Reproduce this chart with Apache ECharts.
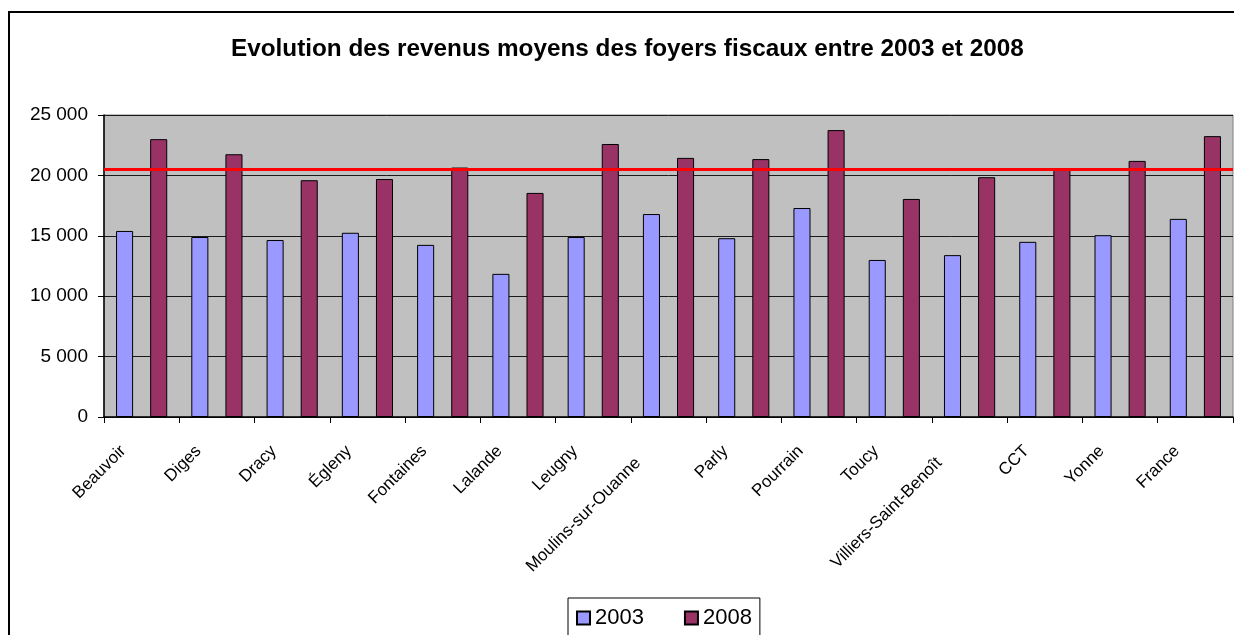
<!DOCTYPE html>
<html lang="fr" style="height: 100%">
<head>
    <meta http-equiv="Content-Type" content="text/html; charset=utf-8"/>
    <title>Evolution des revenus moyens</title>
    <script type="text/javascript" src="https://cdn.jsdelivr.net/npm/echarts@6.0.0/dist/echarts.min.js"></script>
</head>
<body style="height: 100%; margin: 0; background: #fff">
<div id="container" style="width: 1234px; height: 635px"></div>
<script type="text/javascript">
    // donnees
    var communes = ['Beauvoir', 'Diges', 'Dracy', 'Égleny', 'Fontaines', 'Lalande', 'Leugny',
        'Moulins-sur-Ouanne', 'Parly', 'Pourrain', 'Toucy', 'Villiers-Saint-Benoît', 'CCT', 'Yonne', 'France'];
    var revenus2003 = [15400, 14900, 14650, 15250, 14250, 11850, 14900, 16800, 14800, 17300, 13000, 13400, 14500, 15050, 16400];
    var revenus2008 = [23000, 21750, 19600, 19700, 20650, 18550, 22600, 21450, 21350, 23750, 18050, 19850, 20450, 21200, 23250];
    var ligneRouge = 20530;
    var yMin = 0, yMax = 25000, yPas = 5000;

    var police = 'Liberation Sans, Arial, sans-serif';

    function milliers(v) {
        return String(v).replace(/\B(?=(\d{3})+(?!\d))/g, ' ');
    }

    // les libelles longs sont un peu plus bas, comme dans Excel
    var categories = communes.map(function (nom) {
        var p = nom.length > 15 ? 43 : 26;
        return {value: nom, textStyle: {padding: [0, p, 0, 0]}};
    });

    var myChart = echarts.init(document.getElementById('container'));
    var option = {
        animation: false,
        backgroundColor: '#fff',
        textStyle: {fontFamily: police, color: '#000'},
        title: {
            text: 'Evolution des revenus moyens des foyers fiscaux entre 2003 et 2008',
            left: 226,
            top: 32,
            textStyle: {fontFamily: police, fontSize: 24.3, fontWeight: 'bold', color: '#000'}
        },
        legend: {
            data: ['2003', '2008'],
            left: 568,
            top: 598,
            orient: 'horizontal',
            padding: [9, 8, 12, 8],
            itemGap: 40,
            itemWidth: 13,
            itemHeight: 13,
            icon: 'rect',
            borderColor: '#000',
            borderWidth: 1,
            textStyle: {fontFamily: police, fontSize: 22, color: '#000'}
        },
        grid: {
            left: 104,
            right: 1,
            top: 115,
            bottom: 218,
            show: true,
            backgroundColor: '#C0C0C0',
            borderColor: '#808080',
            borderWidth: 1
        },
        xAxis: {
            type: 'category',
            data: categories,
            axisLine: {lineStyle: {color: '#000', width: 1.5}},
            axisTick: {show: true, length: 6, lineStyle: {color: '#000'}},
            axisLabel: {
                interval: 0,
                rotate: 45,
                margin: 13,
                padding: [0, 26, 0, 0],
                fontFamily: police,
                fontSize: 17,
                color: '#000'
            }
        },
        yAxis: {
            type: 'value',
            min: yMin,
            max: yMax,
            interval: yPas,
            axisLine: {show: true, lineStyle: {color: '#000', width: 1.5}},
            axisTick: {show: true, length: 6, lineStyle: {color: '#000'}},
            axisLabel: {
                margin: 16,
                fontFamily: police,
                fontSize: 19,
                color: '#000',
                formatter: milliers
            },
            splitLine: {lineStyle: {color: '#1a1a1a', width: 1}}
        },
        series: [
            {
                name: '2003',
                type: 'bar',
                data: revenus2003,
                barGap: '100%',
                barCategoryGap: '32%',
                itemStyle: {color: '#9999FF', borderColor: '#000', borderWidth: 1}
            },
            {
                name: '2008',
                type: 'bar',
                data: revenus2008,
                barGap: '100%',
                barCategoryGap: '32%',
                itemStyle: {color: '#993366', borderColor: '#000', borderWidth: 1},
                markLine: {
                    silent: true,
                    symbol: ['none', 'none'],
                    label: {show: false},
                    lineStyle: {color: '#FF0000', width: 3, type: 'solid'},
                    data: [{yAxis: ligneRouge}]
                }
            }
        ],
        graphic: [{
            type: 'rect',
            shape: {x: 9, y: 12, width: 1400, height: 800},
            style: {fill: 'none', stroke: '#000', lineWidth: 2},
            silent: true,
            z: 100
        }]
    };
    myChart.setOption(option, true);
</script>
</body>
</html>
